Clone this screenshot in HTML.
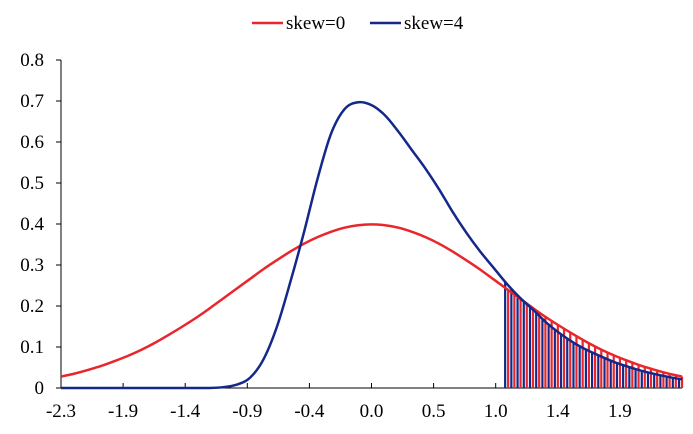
<!DOCTYPE html>
<html><head><meta charset="utf-8"><style>
html,body{margin:0;padding:0;background:#fff;}
svg text{font-family:"Liberation Serif",serif;font-size:19px;fill:#000;}
</style></head><body>
<svg id="chart" width="693" height="429" xmlns="http://www.w3.org/2000/svg">
<g>
<line x1="252" y1="23" x2="283" y2="23" stroke="#e8262b" stroke-width="2.5"/>
<text x="286" y="29">skew=0</text>
<line x1="370" y1="23" x2="401" y2="23" stroke="#14288a" stroke-width="2.5"/>
<text x="404" y="29">skew=4</text>
</g>
<g id="axes"></g>
<g id="hatch"></g>
<g id="lines"></g>
</svg>
<script>
const xs = [-2.3,-2.2,-2.1,-2.0,-1.9,-1.8,-1.7,-1.6,-1.5,-1.4,-1.3,-1.2,-1.1,-1.0,-0.9,-0.8,-0.7,-0.6,-0.5,-0.4,-0.3,-0.2,-0.1,0.0,0.1,0.2,0.3,0.4,0.5,0.6,0.7,0.8,0.9,1.0,1.1,1.2,1.3,1.4,1.5,1.6,1.7,1.8,1.9,2.0,2.1,2.2,2.3];
const skew0 = [0.028,0.035,0.044,0.054,0.066,0.079,0.094,0.111,0.130,0.150,0.171,0.194,0.218,0.242,0.266,0.290,0.312,0.333,0.352,0.368,0.381,0.391,0.397,0.399,0.397,0.391,0.381,0.368,0.352,0.333,0.312,0.290,0.266,0.242,0.218,0.194,0.171,0.150,0.130,0.111,0.094,0.079,0.066,0.054,0.044,0.035,0.028];
const skew4 = [0,0,0,0,0,0,0,0,0,0,0,0,0.002,0.008,0.025,0.07,0.15,0.26,0.38,0.51,0.62,0.68,0.697,0.69,0.665,0.625,0.58,0.535,0.485,0.43,0.38,0.335,0.295,0.255,0.22,0.19,0.158,0.132,0.11,0.092,0.077,0.063,0.052,0.042,0.034,0.027,0.021];
const yTicks = [0,0.1,0.2,0.3,0.4,0.5,0.6,0.7,0.8];
const yTickLabels = ["0","0.1","0.2","0.3","0.4","0.5","0.6","0.7","0.8"];
const xTicks = [-2.3,-1.84,-1.38,-0.92,-0.46,0,0.46,0.92,1.38,1.84];
const xTickLabels = ["-2.3","-1.9","-1.4","-0.9","-0.4","0.0","0.5","1.0","1.4","1.9"];
const hatchStart = 0.99;

const NS="http://www.w3.org/2000/svg";
const X0=61,X1=682,Y0=388,Y1=60;
const xScale=v=>X0+(v-(-2.3))/(4.6)*(X1-X0);
const yScale=v=>Y0-v/0.8*(Y0-Y1);
function mk(tag,attrs,parent){const e=document.createElementNS(NS,tag);for(const k in attrs)e.setAttribute(k,attrs[k]);parent.appendChild(e);return e;}
const axes=document.getElementById('axes');
let e=mk('line',{x1:X0,y1:Y1,x2:X0,y2:Y0,stroke:'#000','stroke-width':1},axes);


e=mk('line',{x1:X0,y1:Y0,x2:X1,y2:Y0,stroke:'#000','stroke-width':1},axes);


yTicks.forEach((t,i)=>{
 const y=yScale(t);
 let tk=mk('line',{x1:X0-5,y1:y,x2:X0,y2:y,stroke:'#000'},axes);
 
 
 let tx=mk('text',{x:44,y:y+6,'text-anchor':'end'},axes);tx.textContent=yTickLabels[i];
 
 
});
xTicks.forEach((t,i)=>{
 const x=xScale(t);
 let tk=mk('line',{x1:x,y1:Y0,x2:x,y2:Y0-5,stroke:'#000'},axes);
 
 
 let tx=mk('text',{x:x,y:417,'text-anchor':'middle'},axes);tx.textContent=xTickLabels[i];
 
 
});
function interp(arr,v){
 for(let i=0;i<xs.length-1;i++){if(v>=xs[i]&&v<=xs[i+1]){const f=(v-xs[i])/(xs[i+1]-xs[i]);return arr[i]+(arr[i+1]-arr[i])*f;}}
 return arr[arr.length-1];
}
const hatch=document.getElementById('hatch');
for(let v=hatchStart; v<=2.3001; v+=0.046){
 const xb=xScale(v);
 let b=mk('line',{x1:xb,y1:Y0,x2:xb,y2:yScale(interp(skew4,v)),stroke:'#14288a','stroke-width':2.2},hatch);
 
 
 if(v+0.022<=2.3){
 let r=mk('line',{x1:xb+3,y1:Y0,x2:xb+3,y2:yScale(interp(skew0,v+0.022)),stroke:'#e8262b','stroke-width':2.2},hatch);
 
 
 }
}
function path(arr){
 const p=xs.map((x,i)=>[xScale(x),yScale(arr[i])]);
 let d='M'+p[0][0]+','+p[0][1];
 for(let i=0;i<p.length-1;i++){
  const p0=p[Math.max(i-1,0)],p1=p[i],p2=p[i+1],p3=p[Math.min(i+2,p.length-1)];
  d+=' C'+(p1[0]+(p2[0]-p0[0])/6)+','+(p1[1]+(p2[1]-p0[1])/6)+' '+(p2[0]-(p3[0]-p1[0])/6)+','+(p2[1]-(p3[1]-p1[1])/6)+' '+p2[0]+','+p2[1];
 }
 return d;
}
const lines=document.getElementById('lines');
let l0=mk('path',{d:path(skew0),fill:'none',stroke:'#e8262b','stroke-width':2.5},lines);


let l4=mk('path',{d:path(skew4),fill:'none',stroke:'#14288a','stroke-width':2.5},lines);


</script>
</body></html>
